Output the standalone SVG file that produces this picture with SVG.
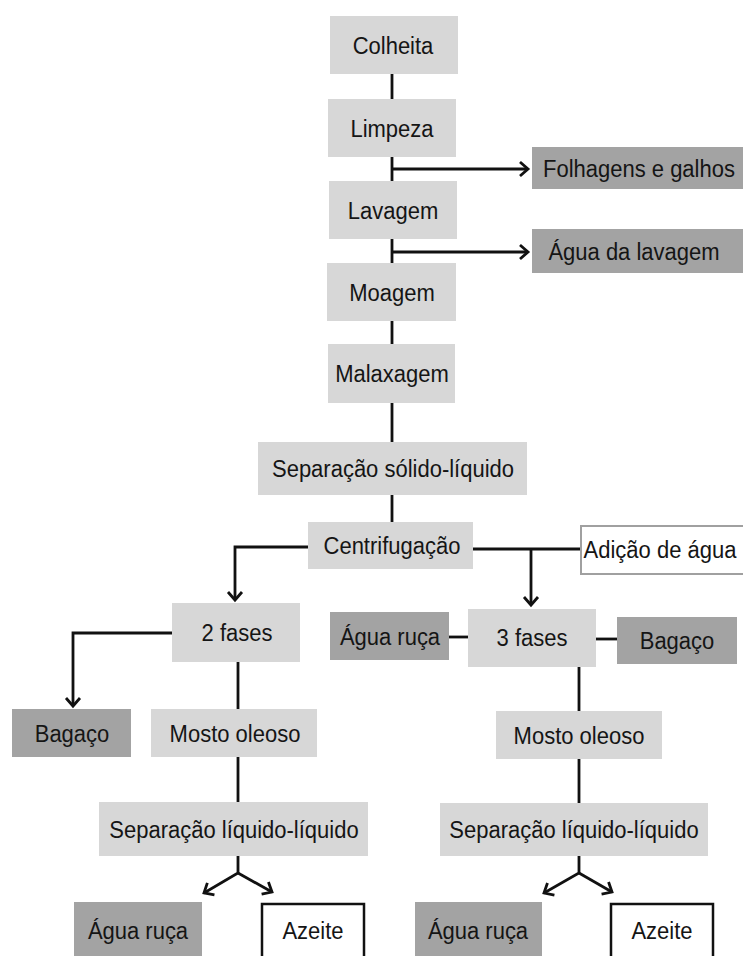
<svg xmlns="http://www.w3.org/2000/svg" width="743" height="956" viewBox="0 0 743 956">
<style>
.l{fill:#d7d7d7}
.d{fill:#a3a3a3}
.w{fill:#ffffff;stroke:#111;stroke-width:2.5}
.g{fill:#ffffff;stroke:#a0a0a0;stroke-width:2}
text{font-family:"Liberation Sans",Arial,sans-serif;font-size:22px;fill:#151515;text-anchor:middle;transform-box:fill-box;transform-origin:center;transform:scaleY(1.07)}
.c path{fill:none;stroke:#111;stroke-width:2.8}
</style>
<defs>
<marker id="a" markerUnits="userSpaceOnUse" markerWidth="20" markerHeight="20" refX="10" refY="10" orient="auto" overflow="visible">
<path d="M2,3 L10,10 L2,17" fill="none" stroke="#111" stroke-width="2.8"/>
</marker>
</defs>
<rect width="743" height="956" fill="#fff"/>
<g class="c" id="connectors">
<path d="M392,74V99"/>
<path d="M392,157V181"/>
<path d="M392,169H528" marker-end="url(#a)"/>
<path d="M392,239V263"/>
<path d="M392,252H528" marker-end="url(#a)"/>
<path d="M392,321V344"/>
<path d="M392,403V442"/>
<path d="M392,495V522"/>
<path d="M308,547H235V600" marker-end="url(#a)"/>
<path d="M473,549H581"/>
<path d="M531,549V605" marker-end="url(#a)"/>
<path d="M172,633H73V706" marker-end="url(#a)"/>
<path d="M238,662V709"/>
<path d="M238,757V802"/>
<path d="M238,856V873L204,893" marker-end="url(#a)"/>
<path d="M238,873L272,892" marker-end="url(#a)"/>
<path d="M449,637H468"/>
<path d="M596,639H617"/>
<path d="M579,667V711"/>
<path d="M579,759V803"/>
<path d="M579,856V873L544,893" marker-end="url(#a)"/>
<path d="M579,873L612,892" marker-end="url(#a)"/>
</g>
<g id="colheita"><rect class="l" x="330" y="16" width="128" height="58"/><text x="393" y="53">Colheita</text></g>
<g id="limpeza"><rect class="l" x="328" y="99" width="128" height="58"/><text x="392" y="136">Limpeza</text></g>
<g id="folhagens"><rect class="d" x="532" y="147" width="215" height="42"/><text x="639" y="176">Folhagens e galhos</text></g>
<g id="lavagem"><rect class="l" x="329" y="181" width="128" height="58"/><text x="393" y="218">Lavagem</text></g>
<g id="agua-lavagem"><rect class="d" x="532" y="229" width="215" height="44"/><text x="634" y="259">Água da lavagem</text></g>
<g id="moagem"><rect class="l" x="327" y="263" width="129" height="58"/><text x="392" y="300">Moagem</text></g>
<g id="malaxagem"><rect class="l" x="328" y="344" width="127" height="59"/><text x="392" y="381">Malaxagem</text></g>
<g id="sep-solido"><rect class="l" x="258" y="442" width="269" height="53"/><text x="393" y="476">Separação sólido-líquido</text></g>
<g id="centrifugacao"><rect class="l" x="308" y="522" width="165" height="47"/><text x="392" y="553">Centrifugação</text></g>
<g id="adicao"><rect class="g" x="581" y="526" width="170" height="48"/><text x="660" y="557">Adição de água</text></g>
<g id="fases2"><rect class="l" x="172" y="603" width="128" height="59"/><text x="237" y="640">2 fases</text></g>
<g id="bagaco-l"><rect class="d" x="12" y="709" width="119" height="48"/><text x="72" y="741">Bagaço</text></g>
<g id="mosto-l"><rect class="l" x="151" y="709" width="166" height="48"/><text x="235" y="741">Mosto oleoso</text></g>
<g id="sep-liq-l"><rect class="l" x="99" y="802" width="269" height="54"/><text x="234" y="837">Separação líquido-líquido</text></g>
<g id="agua-ruca-l"><rect class="d" x="74" y="902" width="128" height="58"/><text x="138" y="938">Água ruça</text></g>
<g id="azeite-l"><rect class="w" x="262" y="904" width="102" height="60"/><text x="313" y="938">Azeite</text></g>
<g id="agua-ruca-m"><rect class="d" x="330" y="612" width="119" height="48"/><text x="390" y="644">Água ruça</text></g>
<g id="fases3"><rect class="l" x="468" y="609" width="128" height="58"/><text x="532" y="645">3 fases</text></g>
<g id="bagaco-r"><rect class="d" x="617" y="617" width="120" height="47"/><text x="677" y="648">Bagaço</text></g>
<g id="mosto-r"><rect class="l" x="496" y="711" width="166" height="48"/><text x="579" y="743">Mosto oleoso</text></g>
<g id="sep-liq-r"><rect class="l" x="440" y="803" width="268" height="53"/><text x="574" y="837">Separação líquido-líquido</text></g>
<g id="agua-ruca-r"><rect class="d" x="415" y="902" width="127" height="58"/><text x="478" y="938">Água ruça</text></g>
<g id="azeite-r"><rect class="w" x="611" y="904" width="102" height="60"/><text x="662" y="938">Azeite</text></g>
</svg>
